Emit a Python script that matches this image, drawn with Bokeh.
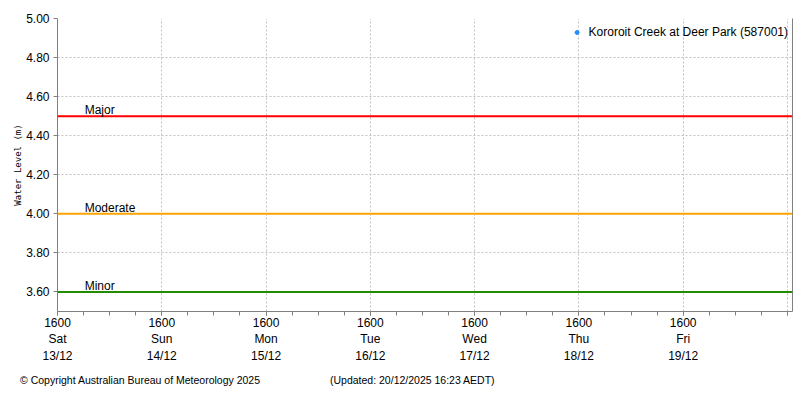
from datetime import datetime, timedelta
from bokeh.plotting import figure
from bokeh.layouts import column, row
from bokeh.models import (FixedTicker, Span, Label, LinearAxis, Legend, LegendItem,
                          ColumnDataSource, NumeralTickFormatter, Range1d, Div)
from bokeh.embed import file_html
from bokeh.resources import INLINE

# ---------------- data ----------------
station = "Kororoit Creek at Deer Park (587001)"
obs_time = [datetime(2025, 12, 20, 16, 23)]   # latest update; no level recorded
obs_level = [float("nan")]

threshold_names = ["Major", "Moderate", "Minor"]
threshold_levels = [4.5, 4.0, 3.6]
threshold_colors = ["#ff0000", "#ffa500", "#228b00"]

day_names = ["Sat", "Sun", "Mon", "Tue", "Wed", "Thu", "Fri", ""]
day_dates = ["13/12", "14/12", "15/12", "16/12", "17/12", "18/12", "19/12", ""]
y_ticks = [3.6, 3.8, 4.0, 4.2, 4.4, 4.6, 4.8, 5.0]

start = datetime(2025, 12, 13, 16, 0)
end = datetime(2025, 12, 20, 17, 10)
label_time = datetime(2025, 12, 13, 22, 15)

footer_left = "\u00a9 Copyright Australian Bureau of Meteorology 2025"
footer_right = "(Updated: 20/12/2025 16:23 AEDT)"

EPOCH = datetime(1970, 1, 1)
def ms(d):
    return (d - EPOCH).total_seconds() * 1000.0

FONT = "Liberation Sans"

p = figure(width=797, height=366, x_axis_type="datetime",
           x_range=Range1d(ms(start), ms(end)), y_range=Range1d(3.5, 5.0),
           output_backend="svg", toolbar_location=None,
           min_border_left=57, min_border_right=5, min_border_top=18, min_border_bottom=55)
p.outline_line_color = None

# ticks
major = [ms(start + timedelta(days=i)) for i in range(8)]
minor = [ms(start + timedelta(hours=6 * i)) for i in range(29)]
p.xaxis.ticker = FixedTicker(ticks=major, minor_ticks=minor)
p.xaxis.major_label_overrides = {major[i]: (f"1600\n{day_names[i]}\n{day_dates[i]}" if day_names[i] else "")
                                 for i in range(8)}
p.yaxis.ticker = FixedTicker(ticks=y_ticks)
p.yaxis.formatter = NumeralTickFormatter(format="0.00")

for ax in (p.xaxis, p.yaxis):
    ax.axis_line_color = "#808080"
    ax.major_tick_line_color = "#808080"
    ax.minor_tick_line_color = "#808080"
    ax.major_tick_out = 4
    ax.major_tick_in = 0
    ax.minor_tick_out = 4
    ax.minor_tick_in = 0
    ax.major_label_text_font = FONT
    ax.major_label_text_font_size = "12px"
    ax.major_label_text_color = "#000000"
    ax.major_label_standoff = 4
p.xaxis.major_label_standoff = 0
p.yaxis.minor_tick_line_color = None
p.yaxis.axis_label = "Water Level (m)"
p.yaxis.axis_label_text_font = "DejaVu Sans Mono"
p.yaxis.axis_label_text_font_size = "9px"
p.yaxis.axis_label_text_font_style = "normal"
p.yaxis.axis_label_text_color = "#000000"
p.yaxis.axis_label_standoff = 0

right = LinearAxis(ticker=FixedTicker(ticks=[]), axis_line_color="#808080",
                   major_label_text_font_size="0px", major_tick_line_color=None,
                   minor_tick_line_color=None)
p.add_layout(right, "right")

p.xgrid.ticker = FixedTicker(ticks=major)
for g in (p.xgrid, p.ygrid):
    g.grid_line_color = "#c0c0c0"
    g.grid_line_dash = "2 2"

# thresholds
for name, lvl, col in zip(threshold_names, threshold_levels, threshold_colors):
    p.add_layout(Span(location=lvl, dimension="width", line_color=col, line_width=2))
    p.add_layout(Label(x=ms(label_time), y=lvl, text=name, text_font=FONT,
                       text_color="#000000",
                       text_font_size="12px", text_baseline="bottom", y_offset=-1))

# observations (none valid) for legend
src = ColumnDataSource(data=dict(t=obs_time, h=obs_level))
r = p.scatter("t", "h", source=src, size=6, color="#1e90ff")
leg = Legend(items=[LegendItem(label=station, renderers=[r])], location="top_right",
             border_line_color=None, background_fill_alpha=0,
             label_text_font=FONT, label_text_font_size="12px", label_text_color="#000000",
             glyph_width=10, label_standoff=7, margin=4, padding=2)
p.add_layout(leg)

foot_style = {"font-family": FONT, "font-size": "10.5px", "color": "#000000",
              "line-height": "14px"}
d1 = Div(text=footer_left, width=300, height=20, styles=foot_style, margin=(7, 0, 0, 20))
d2 = Div(text=footer_right, width=300, height=20, styles=foot_style, margin=(7, 0, 0, 10))

layout = column(p, row(d1, d2))
open("out.html", "w").write(file_html(layout, INLINE))
